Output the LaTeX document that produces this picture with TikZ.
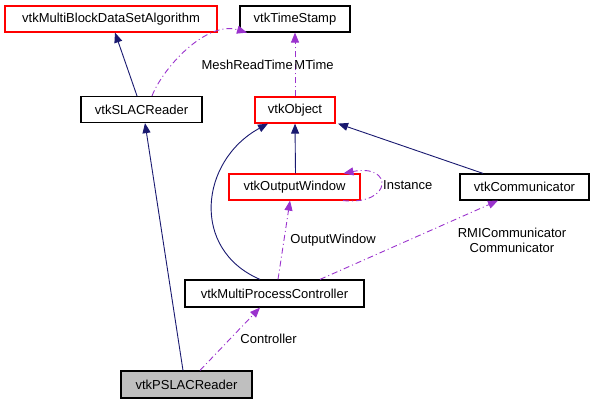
\documentclass[tikz,border=0pt]{standalone}
\usepackage{fontspec}
\setmainfont{Liberation Sans}
\usepackage{tikz}
\usetikzlibrary{arrows.meta,positioning}
\definecolor{inhblue}{HTML}{191970}
\definecolor{useviolet}{HTML}{9A32CD}
\definecolor{leafgray}{HTML}{BFBFBF}
\tikzset{
  cls/.style={draw=black, line width=1.2pt, minimum height=26, inner sep=0pt,
    font=\fontsize{13}{15}\selectfont},
  redcls/.style={cls, draw=red},
  lbl/.style={inner sep=0pt, font=\fontsize{13}{15}\selectfont},
  inh/.style={draw=inhblue, line width=0.9pt,
    -{Triangle[length=10pt,width=8pt,fill=inhblue]}},
  use/.style={draw=useviolet, line width=0.9pt,
    dash pattern=on 6pt off 3pt on 1pt off 3pt,
    -{Triangle[length=10pt,width=8pt,fill=useviolet]}}
}

\begin{document}
\begin{tikzpicture}[x=1pt,y=-1pt]
\useasboundingbox (0,0) rectangle (596,403);
% classes
\node[redcls, minimum width=212] (mbdsa) at (111,19) {vtkMultiBlockDataSetAlgorithm};
\node[cls, minimum width=110] (ts) at (295,19) {vtkTimeStamp};
\node[cls, minimum width=121] (slac) at (141.5,109.5) {vtkSLACReader};
\node[redcls, minimum width=80] (vobj) at (295,110) {vtkObject};
\node[redcls, minimum width=131] (ow) at (294.5,187) {vtkOutputWindow};
\node[cls, minimum width=129] (comm) at (524.5,187) {vtkCommunicator};
\node[cls, minimum width=179, minimum height=27] (mpc) at (274.5,293.5) {vtkMultiProcessController};
\node[cls, minimum width=131, minimum height=27, fill=leafgray] (pslac) at (186.5,384.5) {vtkPSLACReader};
% inheritance
\draw[inh] ([xshift=-4.5]slac.north) -- ([xshift=4]mbdsa.south);
\draw[inh] ([xshift=1]ow.north) -- (vobj.south);
\draw[inh] ([xshift=-41.5]comm.north) -- ([xshift=43]vobj.south);
\draw[inh] ([xshift=-14.5]mpc.north) .. controls +(-70,-30) and +(-68,37) .. ([xshift=-27]vobj.south);
\draw[inh] ([xshift=-3.5]pslac.north) -- ([xshift=3.5]slac.south);
% usage
\draw[use] (vobj.north) -- node[lbl, midway, anchor=west, xshift=-1] (lmtime) {MTime} (ts.south);
\node[lbl, anchor=east] (lmesh) at ([xshift=-1]lmtime.west) {MeshReadTime};
\draw[use] ([xshift=10.5]slac.north) .. controls +(12,-30) and +(-40,-12) .. ([xshift=-48]ts.south);
\draw[use] ([xshift=48.5]ow.south) .. controls +(50,5) and +(50,-10) .. node[lbl, pos=0.5, anchor=west, xshift=2] {Instance} ([xshift=49]ow.north);
\draw[use] ([xshift=3.5]mpc.north) -- node[lbl, midway, anchor=west, xshift=6] {OutputWindow} ([xshift=-4.5]ow.south);
\draw[use] ([xshift=45.5]mpc.north) -- node[lbl, midway, align=center, xshift=103] {RMICommunicator\\Communicator} ([xshift=-26.5]comm.south);
\draw[use] ([xshift=13.5]pslac.north) -- node[lbl, midway, anchor=west, xshift=10] {Controller} ([xshift=-14.5]mpc.south);
\end{tikzpicture}
\end{document}
